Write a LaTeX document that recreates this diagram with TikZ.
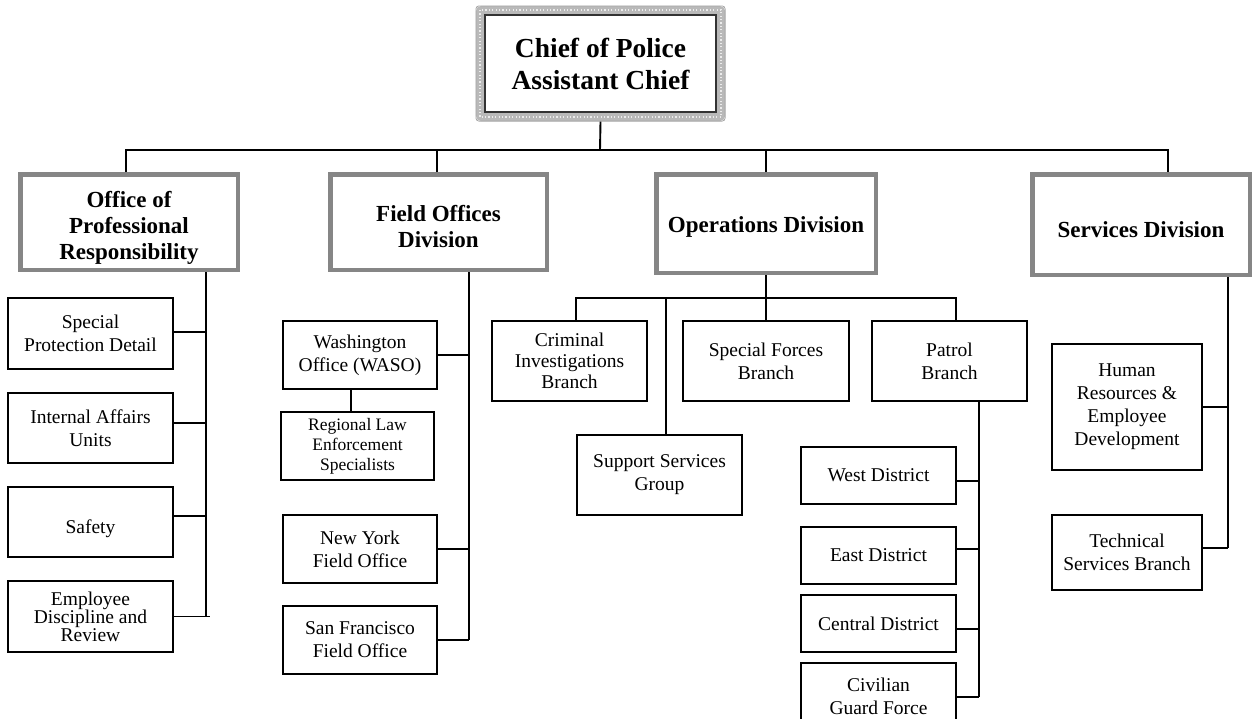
\documentclass[tikz,border=0pt]{standalone}
\usepackage{fontspec}
\setmainfont{Liberation Serif}
\usetikzlibrary{calc}
\definecolor{divgray}{RGB}{134,134,134}
\begin{document}
\begin{tikzpicture}[x=1pt,y=-1pt,
  sbox/.style={draw=black, line width=1.2pt, fill=white, align=center, inner sep=0pt,
    font=\fontsize{19.5}{23}\selectfont},
  stext/.style={align=center, inner sep=0pt, font=\fontsize{19.5}{23}\selectfont},
  divbox/.style={draw=divgray, line width=4.5pt, fill=white, inner sep=0pt},
  divtext/.style={align=center, inner sep=0pt, font=\fontsize{23}{26}\selectfont\bfseries},
  chiefbox/.style={draw=black!80, line width=1.2pt, fill=white, align=center, inner sep=0pt,
    font=\fontsize{27.5}{32}\selectfont\bfseries},
  conn/.style={draw=black, line width=1.9pt}]
\useasboundingbox (0,0) rectangle (1253,718);

% top box
\node[chiefbox, minimum width=231pt, minimum height=97pt] (chief) at (600.5,63.5) {Chief of Police\\Assistant Chief};
\draw[line width=8pt, gray!55, rounded corners=2pt] ([shift={(-4.5pt,4.5pt)}]chief.north west) rectangle ([shift={(4.5pt,-4.5pt)}]chief.south east);
\draw[line width=1.4pt, gray!15, dash pattern=on 1.2pt off 2.2pt] ([shift={(-4.5pt,4.5pt)}]chief.north west) rectangle ([shift={(4.5pt,-4.5pt)}]chief.south east);
\draw[line width=0.8pt, gray!70, rounded corners=3pt] ([shift={(-8.5pt,8.5pt)}]chief.north west) rectangle ([shift={(8.5pt,-8.5pt)}]chief.south east);
\draw[line width=1.2pt, black!80] (chief.north west) rectangle (chief.south east);

% divisions
\node[divbox, minimum width=217.5pt, minimum height=95.5pt] (opr) at (129,222) {};
\node[divtext] (opr-t) at ([yshift=-6pt]opr.center) {Office of\\Professional\\Responsibility};
\node[divbox, minimum width=216.5pt, minimum height=95.5pt] (fod) at (438.5,222) {};
\node[divtext] (fod-t) at ([yshift=-5pt]fod.center) {Field Offices\\Division};
\node[divbox, minimum width=219.5pt, minimum height=98.5pt] (ops) at (766,223.5) {};
\node[divtext] (ops-t) at ([yshift=-3pt]ops.center) {Operations Division};
\node[divbox, minimum width=217.5pt, minimum height=100.5pt] (srv) at (1141,224.5) {};
\node[divtext] (srv-t) at ([yshift=-5pt]srv.center) {Services Division};

% top bus
\coordinate (bus) at (600,150);
\draw[conn] ([yshift=-9pt]chief.south) -- (bus);
\draw[conn] (opr.north -| 126,0) |- (bus) -| (srv.north -| 1168,0);
\draw[conn] (fod.north -| 437,0) -- (bus -| 437,0);
\draw[conn] (ops.north) -- (ops.north |- bus);

% OPR children
\node[sbox, minimum width=165pt, minimum height=71pt] (spd) at (90.5,333.5) {Special\\Protection Detail};
\node[sbox, minimum width=165pt, minimum height=70pt] (iau) at (90.5,428) {Internal Affairs\\Units};
\node[sbox, minimum width=165pt, minimum height=70pt] (saf) at (90.5,522) {};
\node[stext] (saf-t) at ([yshift=-7pt]saf.center) {Safety};
\node[sbox, minimum width=165pt, minimum height=71pt, font=\fontsize{19.5}{18}\selectfont] (edr) at (90.5,616.5) {Employee\\Discipline and\\Review};
\coordinate (oprx) at (206,0);
\draw[conn] (opr.south -| oprx) -- (oprx |- edr.east) -- ++(4,0);
\draw[conn] ([yshift=1.5pt]spd.east) -- ([yshift=1.5pt]spd.east -| oprx);
\draw[conn] ([yshift=5pt]iau.east) -- ([yshift=5pt]iau.east -| oprx);
\draw[conn] ([yshift=6pt]saf.east) -- ([yshift=6pt]saf.east -| oprx);
\draw[conn] (edr.east) -- (edr.east -| oprx);

% FOD children
\node[sbox, minimum width=154pt, minimum height=68pt] (waso) at (360,355) {Washington\\Office (WASO)};
\node[sbox, minimum width=153pt, minimum height=68pt, font=\fontsize{17.5}{20}\selectfont] (rles) at (357.5,446) {Regional Law\\Enforcement\\Specialists};
\node[sbox, minimum width=154pt, minimum height=68pt] (nyfo) at (360,549) {New York\\Field Office};
\node[sbox, minimum width=154pt, minimum height=68pt] (sffo) at (360,640) {San Francisco\\Field Office};
\coordinate (fodx) at (469,0);
\draw[conn] (fod.south -| fodx) -- (fodx |- sffo.east);
\draw[conn] (waso.east) -- (waso.east -| fodx);
\draw[conn] (nyfo.east) -- (nyfo.east -| fodx);
\draw[conn] (sffo.east) -- (sffo.east -| fodx);
\draw[conn] (waso.south -| 351,0) -- (rles.north -| 351,0);

% Operations children
\node[sbox, minimum width=155pt, minimum height=80pt, font=\fontsize{19.5}{21}\selectfont] (cib) at (569.5,361) {Criminal\\Investigations\\Branch};
\node[sbox, minimum width=166pt, minimum height=80pt] (sfb) at (766,361) {Special Forces\\Branch};
\node[sbox, minimum width=155pt, minimum height=80pt] (pb) at (949.5,361) {Patrol\\Branch};
\node[sbox, minimum width=165pt, minimum height=80pt] (ssg) at (659.5,475) {Support Services\\Group};
\coordinate (opsbus) at (766,298);
\draw[conn] (ops.south) -- (opsbus);
\draw[conn] (cib.north -| 576,0) |- (opsbus) -| (pb.north -| 956,0);
\draw[conn] (sfb.north) -- (opsbus);
\draw[conn] (ssg.north -| 666,0) -- (opsbus -| 666,0);

% Patrol children
\node[sbox, minimum width=155pt, minimum height=57pt] (west) at (878.5,475.5) {West District};
\node[sbox, minimum width=155pt, minimum height=57pt] (east) at (878.5,555.5) {East District};
\node[sbox, minimum width=155pt, minimum height=57pt] (cent) at (878.5,623.5) {Central District};
\node[sbox, minimum width=155pt, minimum height=67pt, text depth=0pt] (cgf) at (878.5,696.5) {Civilian\\Guard Force};
\coordinate (pbx) at (979,0);
\draw[conn] (pb.south -| pbx) -- ([yshift=-0.5pt]pbx |- cgf.east);
\draw[conn] ([yshift=-5.5pt]west.east) -- ([yshift=-5.5pt]west.east -| pbx);
\draw[conn] ([yshift=6.5pt]east.east) -- ([yshift=6.5pt]east.east -| pbx);
\draw[conn] ([yshift=-5.5pt]cent.east) -- ([yshift=-5.5pt]cent.east -| pbx);
\draw[conn] ([yshift=-0.5pt]cgf.east) -- ([yshift=-0.5pt]cgf.east -| pbx);

% Services children
\node[sbox, minimum width=150pt, minimum height=126pt] (hr) at (1127,407) {Human\\Resources \&\\Employee\\Development};
\node[sbox, minimum width=150pt, minimum height=75pt] (tsb) at (1127,552.5) {Technical\\Services Branch};
\coordinate (srvx) at (1228,0);
\draw[conn] (srv.south -| srvx) -- ([yshift=4.5pt]srvx |- tsb.east);
\draw[conn] (hr.east) -- (hr.east -| srvx);
\draw[conn] ([yshift=4.5pt]tsb.east) -- ([yshift=4.5pt]tsb.east -| srvx);
\end{tikzpicture}
\end{document}
